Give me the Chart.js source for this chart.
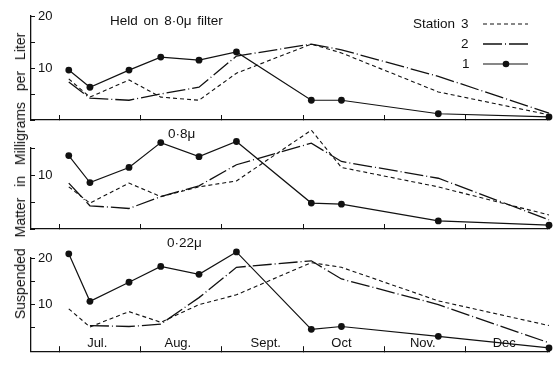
<!DOCTYPE html>
<html>
<head>
<meta charset="utf-8">
<script src="https://cdn.jsdelivr.net/npm/chart.js@4/dist/chart.umd.min.js"></script>
<style>
  html, body { margin: 0; padding: 0; background: #fff; }
  #wrap { position: relative; width: 557px; height: 366px; overflow: hidden; font-family: "Liberation Sans", Arial, sans-serif; color: #111; }
  canvas { position: absolute; left: 0; top: 0; }
  .ylab { position: absolute; left: 20px; top: 176px; transform: translate(-50%, -50%) rotate(-90deg); white-space: nowrap; font-size: 14px; word-spacing: 7px; }
  .pt { position: absolute; white-space: nowrap; font-size: 13.5px; word-spacing: 2px; }
  #legend { position: absolute; left: 400px; top: 8px; }
</style>
</head>
<body>
<div id="wrap">
  <canvas id="c1" width="557" height="366"></canvas>
  <canvas id="c2" width="557" height="366"></canvas>
  <canvas id="c3" width="557" height="366"></canvas>
  <div class="ylab">Suspended Matter in Milligrams per Liter</div>
  <div class="pt" style="left:110px;top:13px;">Held on 8·0μ filter</div>
  <div class="pt" style="left:168px;top:126px;">0·8μ</div>
  <div class="pt" style="left:167px;top:235px;">0·22μ</div>
  <svg id="legend" width="150" height="70" xmlns="http://www.w3.org/2000/svg">
    <g font-family="Liberation Sans, Arial, sans-serif" font-size="13.5" fill="#111">
      <text x="13" y="20">Station</text>
      <text x="61" y="20">3</text>
      <text x="61" y="40">2</text>
      <text x="62" y="60">1</text>
    </g>
    <line x1="83" y1="16" x2="128" y2="16" stroke="#111" stroke-width="1.2" stroke-dasharray="4,3"/>
    <line x1="83" y1="36" x2="128" y2="36" stroke="#111" stroke-width="1.3" stroke-dasharray="19,3,1,3"/>
    <line x1="83" y1="56" x2="128" y2="56" stroke="#111" stroke-width="1.2"/>
    <circle cx="106" cy="56" r="3.3" fill="#111"/>
  </svg>
</div>
<script>
// ---- data (x in months after 1 July) ----
const monthLabels = ['Jul.', 'Aug.', 'Sept.', 'Oct', 'Nov.', 'Dec'];
const monthLabelPos = [0.47, 1.46, 2.54, 3.47, 4.47, 5.47];
const monthBoundaries = [0, 1, 2, 3, 4, 5, 6];
const sampleDates = [0.12, 0.38, 0.86, 1.25, 1.72, 2.18, 3.10, 3.47, 4.66, 6.02];

// Held on 8.0 micron filter
const p1Station1 = [9.6, 6.3, 9.6, 12.1, 11.5, 13.1, 3.8, 3.8, 1.2, 0.6];
const p1Station2 = [7.3, 4.2, 3.8, 5.0, 6.3, 12.3, 14.6, 13.5, 8.4, 1.3];
const p1Station3 = [7.9, 4.4, 7.7, 4.4, 3.8, 9.0, 14.6, 12.9, 5.4, 1.0];
// 0.8 micron
const p2Station1 = [13.6, 8.6, 11.4, 16.0, 13.4, 16.2, 4.8, 4.6, 1.5, 0.7];
const p2Station2 = [8.5, 4.3, 3.8, 6.0, 8.0, 11.9, 15.9, 12.5, 9.4, 1.7];
const p2Station3 = [7.8, 4.8, 8.5, 6.0, 7.8, 8.9, 18.3, 11.4, 7.8, 2.6];
// 0.22 micron
const p3Station1 = [20.9, 10.7, 14.8, 18.2, 16.5, 21.3, 4.7, 5.3, 3.2, 0.7];
const p3Station2 = [null, 5.5, 5.3, 5.8, 11.5, 18.0, 19.4, 15.5, 10.0, 1.8];
const p3Station3 = [9.1, 5.2, 8.5, 6.2, 10.0, 12.1, 19.0, 18.0, 10.8, 5.5];

const p1YMax = 20, p2YMax = 15, p3YMax = 20;
const p1YLabels = [10, 20], p2YLabels = [10], p3YLabels = [10, 20];

const INK = '#111';
const FONT = { family: '"Liberation Sans", Arial, sans-serif', size: 13 };

function pts(vals) {
  return sampleDates.map((x, i) => ({ x: x, y: vals[i] }));
}

// lets markers that rise above the top of a panel's axis still be drawn
const overflowPlugin = {
  id: 'overflowPoints',
  beforeDatasetsDraw(chart) {
    chart._savedTop = chart.chartArea.top;
    chart.chartArea.top -= 30;
  },
  afterDatasetsDraw(chart) {
    chart.chartArea.top = chart._savedTop;
  }
};

function makePanel(id, s1, s2, s3, yMax, yLabels, showMonths, padTop, padBottom) {
  const xTicks = showMonths ? monthBoundaries.concat(monthLabelPos).sort((a, b) => a - b) : monthBoundaries.slice();
  new Chart(document.getElementById(id), {
    type: 'line',
    plugins: [overflowPlugin],
    data: {
      datasets: [
        { label: 'Station 3', data: pts(s3), borderColor: INK, borderWidth: 1.1, borderDash: [4, 3], pointRadius: 0, clip: false, spanGaps: false },
        { label: 'Station 2', data: pts(s2), borderColor: INK, borderWidth: 1.3, borderDash: [19, 3, 1, 3], pointRadius: 0, clip: false, spanGaps: false },
        { label: 'Station 1', data: pts(s1), borderColor: INK, borderWidth: 1.2, pointRadius: 3.4, pointBackgroundColor: INK, pointBorderColor: INK, pointBorderWidth: 0, clip: false }
      ]
    },
    options: {
      responsive: false,
      animation: false,
      events: [],
      layout: { padding: { left: 31, right: 8, top: padTop, bottom: padBottom } },
      plugins: { legend: { display: false }, tooltip: { enabled: false } },
      elements: { line: { tension: 0 } },
      scales: {
        x: {
          type: 'linear',
          min: -0.344,
          max: 6.02,
          afterBuildTicks: (scale) => { scale.ticks = xTicks.map(v => ({ value: v })); },
          afterFit: (scale) => { scale.height = 0; },
          border: { display: true, color: INK, width: 1.3 },
          grid: {
            drawOnChartArea: false,
            drawTicks: true,
            tickLength: -5,
            tickWidth: 1,
            tickColor: (ctx) => (ctx.tick && monthBoundaries.includes(ctx.tick.value)) ? INK : 'rgba(0,0,0,0)'
          },
          ticks: {
            display: showMonths,
            mirror: true,
            padding: 0,
            autoSkip: false,
            maxRotation: 0,
            color: INK,
            font: FONT,
            callback: (v) => {
              const i = monthLabelPos.indexOf(v);
              return i >= 0 ? monthLabels[i] : '';
            }
          }
        },
        y: {
          type: 'linear',
          min: 0,
          max: yMax,
          afterFit: (scale) => { scale.width = 0; },
          border: { display: true, color: INK, width: 1.3 },
          grid: { drawOnChartArea: false, drawTicks: true, tickLength: -4, tickWidth: 1, tickColor: INK },
          ticks: {
            stepSize: 5,
            mirror: true,
            padding: 7,
            color: INK,
            font: FONT,
            callback: (v) => yLabels.includes(v) ? String(v) : ''
          }
        }
      }
    }
  });
}

makePanel('c1', p1Station1, p1Station2, p1Station3, p1YMax, p1YLabels, false, 16, 366 - 120);
makePanel('c2', p2Station1, p2Station2, p2Station3, p2YMax, p2YLabels, false, 148, 366 - 229);
makePanel('c3', p3Station1, p3Station2, p3Station3, p3YMax, p3YLabels, true, 258, 366 - 364);
</script>
</body>
</html>
